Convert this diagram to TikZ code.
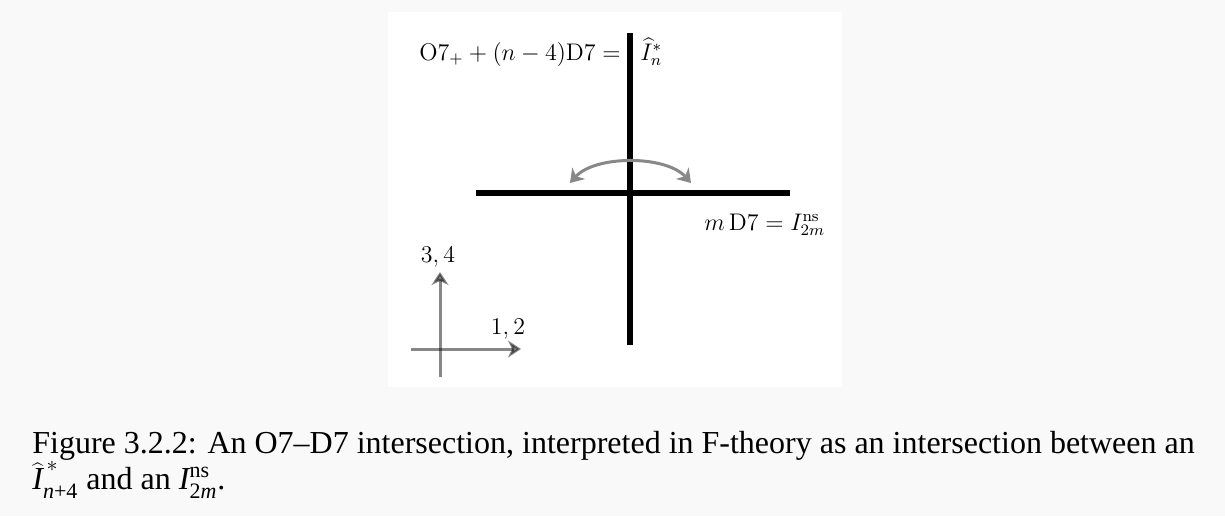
\documentclass[tikz,border=0pt]{standalone}
\usepackage{fontspec}
\newfontfamily\capfont[Ligatures=TeX]{Liberation Serif}
\usepackage{xcolor}
\usepackage{tikz}
\usetikzlibrary{arrows.meta}

\definecolor{pagegray}{RGB}{249,249,249}
\definecolor{arrowgray}{RGB}{136,136,136}
\newcommand{\capsmall}{\capfont\fontsize{11}{12}\selectfont}

\begin{document}
\begin{tikzpicture}[
        x=0.5pt, y=-0.5pt,
        brane/.style={line width=3.4pt, draw=black},
        tip/.tip={Stealth[length=6.5pt, width=8.5pt, inset=2pt]},
        grayarrow/.style={tip-tip, line width=1.5pt, draw=arrowgray},
        axisarrow/.style={-tip, line width=1.5pt, draw=black, opacity=0.47},
        lbltext/.style={font=\fontsize{12}{14}\selectfont, inner sep=0pt}
    ]
        \useasboundingbox (0,0) rectangle (1225,516);
        \fill[pagegray] (0,0) rectangle (1225,516);
        \fill[white] (388,12) rectangle (842,387);

        % the two branes
        \coordinate (o7top) at (630,33);
        \coordinate (o7bot) at (630,345);
        \coordinate (d7left) at (476,193);
        \coordinate (d7right) at (790,193);
        \draw[brane] (o7top) -- (o7bot);
        \draw[brane] (d7left) -- (d7right);

        \node[lbltext, anchor=base east] (o7lhs) at (621,60) {$\mathrm{O7}_+ + (n-4)\mathrm{D7} =$};
        \node[lbltext, anchor=base west] (o7rhs) at (640,60) {$\widehat{I}^*_n$};
        \node[lbltext, anchor=base west] (d7name) at (704,230) {$m\,\mathrm{D7} = I^{\mathrm{ns}}_{2m}$};

        % monodromy arc
        \coordinate (arcleft) at (570,183);
        \coordinate (arcright) at (691,183);
        \draw[grayarrow] (arcleft) .. controls (595,155) and (666,155) .. (arcright);

        % axes
        \coordinate (hstart) at (411,349);
        \coordinate (hend) at (521,349);
        \coordinate (vstart) at (440,377);
        \coordinate (vend) at (440,272);
        \draw[axisarrow] (hstart) -- (hend);
        \draw[axisarrow] (vstart) -- (vend);
        \node[lbltext, anchor=base] (vlabel) at (438,262) {$3,4$};
        \node[lbltext, anchor=base] (hlabel) at (508,334) {$1,2$};

        % caption
        \node[anchor=north west, inner sep=0pt, align=left,
              font=\capfont\fontsize{16}{18}\selectfont] (caption) at (32,431)
            {Figure 3.2.2: An O7--D7 intersection, interpreted in F-theory as an intersection between an\\
             $\widehat{\mbox{\capfont\itshape I}}^{\,*}_{\mbox{\capsmall\itshape n\upshape +4}}$ and an
             $\mbox{\capfont\itshape I}^{\mbox{\capsmall ns}}_{\mbox{\capsmall 2\itshape m}}$.};
\end{tikzpicture}
\end{document}
